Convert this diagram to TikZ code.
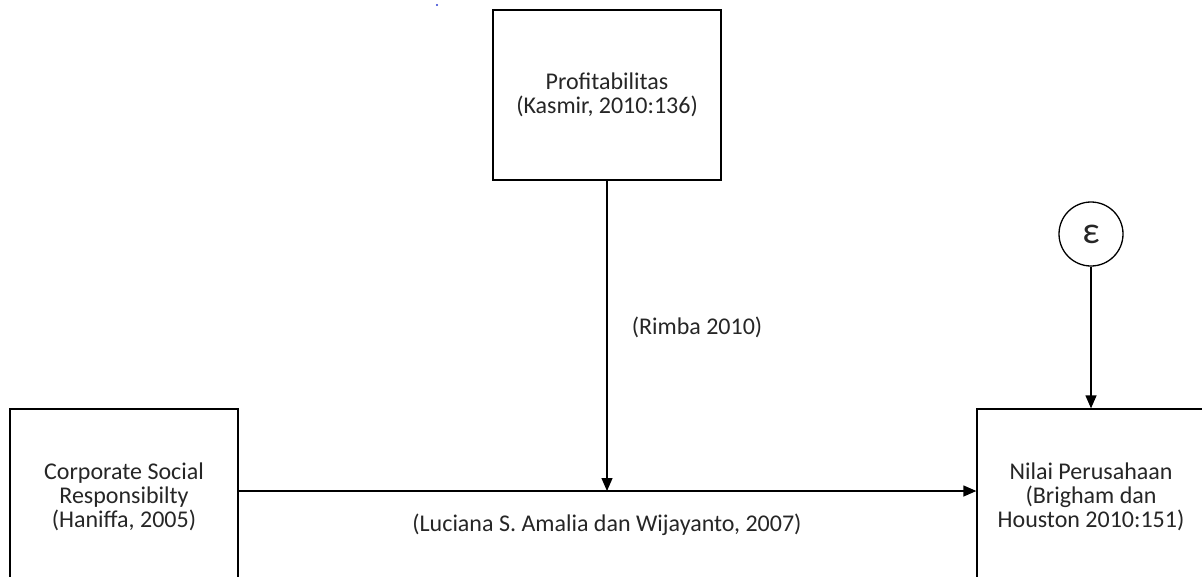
\documentclass[tikz,border=0pt]{standalone}
\usepackage{fontspec}
\setmainfont{Carlito}
\usetikzlibrary{arrows.meta}
\definecolor{boxline}{HTML}{000000}
\definecolor{boxtext}{HTML}{262626}
\definecolor{straydot}{HTML}{2A3CD2}
\tikzset{varbox/.style={draw=boxline, line width=1.3, fill=white, text=boxtext, align=center, inner sep=0,
    minimum width=228, font=\fontsize{24}{24}\selectfont},
  reflabel/.style={text=boxtext, font=\fontsize{24}{24}\selectfont},
  flow/.style={draw=boxline, line width=1.3, -{Triangle[length=13,width=11]}}}

\begin{document}
\begin{tikzpicture}[x=1pt,y=-1pt]
\useasboundingbox (0,0) rectangle (1202,576);
\clip (0,0) rectangle (1202,576);
\fill[straydot] (437,5) circle (1.2);
% variables
\node[varbox, minimum height=170] (profit) at (607,95) {Profitabilitas\\(Kasmir, 2010:136)};
\node[varbox, minimum height=176] (csr) at (124,497) {Corporate Social\\Responsibilty\\(Haniffa, 2005)};
\node[varbox, minimum height=176] (nilai) at (1091,497) {Nilai Perusahaan\\(Brigham dan\\Houston 2010:151)};
\node[draw=boxline, line width=1.3, circle, minimum size=64, inner sep=0, text=boxtext, font=\fontsize{38}{38}\selectfont] (eps) at (1091,234) {ε};
% arrows
\coordinate (meet) at (607,491);
\draw[flow] (csr.east |- meet) -- (nilai.west |- meet);
\draw[flow] (profit.south) -- (meet);
\draw[flow] (eps.south) -- (nilai.north);
% references
\node[reflabel] (rimba) at (697,327) {(Rimba 2010)};
\node[reflabel] (luciana) at (607,525) {(Luciana S. Amalia dan Wijayanto, 2007)};
\end{tikzpicture}
\end{document}
